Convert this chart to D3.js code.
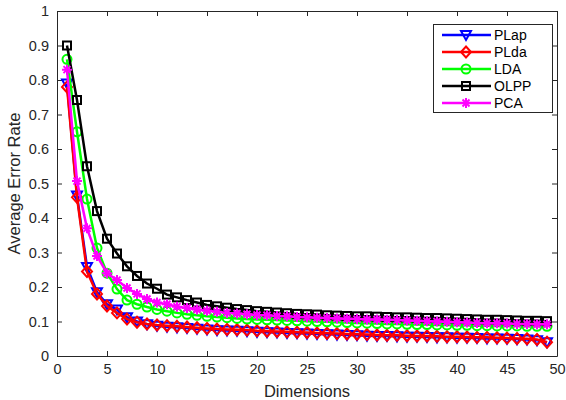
<!DOCTYPE html>
<html>
<head>
<meta charset="utf-8">
<script src="https://cdn.jsdelivr.net/npm/d3@7"></script>
<style>
  html, body { margin: 0; padding: 0; background: #fff; }
  svg { display: block; font-family: "Liberation Sans", Arial, Helvetica, sans-serif; }
</style>
</head>
<body>
<svg id="chart" width="566" height="400"></svg>
<script>
// Number of retained dimensions (x axis)
const dimensions = d3.range(1, 50);

// Average error rate for each method, one value per dimension 1..49
const plapValues = [0.79, 0.465, 0.258, 0.185, 0.150, 0.135, 0.112, 0.100, 0.092, 0.088,
  0.085, 0.083, 0.081, 0.079, 0.077, 0.075, 0.074, 0.073, 0.072, 0.070,
  0.069, 0.068, 0.067, 0.066, 0.065, 0.064, 0.063, 0.062, 0.061, 0.060,
  0.059, 0.058, 0.058, 0.057, 0.056, 0.056, 0.055, 0.054, 0.054, 0.053,
  0.053, 0.052, 0.051, 0.051, 0.050, 0.049, 0.048, 0.046, 0.040];
const pldaValues = [0.78, 0.460, 0.245, 0.180, 0.145, 0.125, 0.107, 0.098, 0.093, 0.090,
  0.088, 0.086, 0.084, 0.082, 0.080, 0.078, 0.077, 0.076, 0.075, 0.073,
  0.072, 0.071, 0.070, 0.069, 0.068, 0.067, 0.066, 0.065, 0.064, 0.063,
  0.062, 0.061, 0.060, 0.060, 0.059, 0.058, 0.058, 0.057, 0.056, 0.056,
  0.055, 0.054, 0.054, 0.053, 0.052, 0.051, 0.050, 0.048, 0.040];
const ldaValues = [0.86, 0.650, 0.455, 0.313, 0.240, 0.194, 0.162, 0.150, 0.142, 0.135,
  0.130, 0.125, 0.121, 0.118, 0.115, 0.113, 0.111, 0.109, 0.107, 0.106,
  0.105, 0.104, 0.103, 0.102, 0.101, 0.100, 0.099, 0.098, 0.097, 0.096,
  0.095, 0.094, 0.093, 0.093, 0.092, 0.091, 0.091, 0.090, 0.090, 0.089,
  0.089, 0.088, 0.088, 0.087, 0.087, 0.087, 0.086, 0.086, 0.086];
const olppValues = [0.90, 0.742, 0.550, 0.420, 0.340, 0.297, 0.260, 0.232, 0.210, 0.195,
  0.178, 0.170, 0.162, 0.155, 0.148, 0.144, 0.140, 0.136, 0.133, 0.130,
  0.128, 0.126, 0.124, 0.122, 0.121, 0.120, 0.118, 0.117, 0.116, 0.115,
  0.115, 0.114, 0.113, 0.112, 0.112, 0.111, 0.110, 0.110, 0.109, 0.108,
  0.107, 0.106, 0.105, 0.105, 0.104, 0.103, 0.102, 0.102, 0.101];
const pcaValues = [0.83, 0.507, 0.370, 0.290, 0.240, 0.220, 0.197, 0.180, 0.165, 0.155,
  0.150, 0.143, 0.139, 0.135, 0.131, 0.128, 0.125, 0.123, 0.121, 0.119,
  0.118, 0.116, 0.115, 0.113, 0.112, 0.111, 0.110, 0.109, 0.108, 0.107,
  0.106, 0.106, 0.105, 0.104, 0.103, 0.102, 0.101, 0.100, 0.099, 0.098,
  0.097, 0.096, 0.095, 0.095, 0.094, 0.093, 0.093, 0.092, 0.092];

const seriesNames = ["PLap", "PLda", "LDA", "OLPP", "PCA"];
const seriesColors = ["#0000ff", "#ff0000", "#00ff00", "#000000", "#ff00ff"];
const seriesMarkers = ["triangleDown", "diamond", "circle", "square", "asterisk"];
const seriesValues = [plapValues, pldaValues, ldaValues, olppValues, pcaValues];

const xTickValues = d3.range(0, 51, 5);
const yTickValues = d3.range(0, 11).map(i => i / 10);

const svg = d3.select("#chart");
const W = 566, H = 400;
const margin = { left: 57, top: 11, right: 9, bottom: 44 };
const plotW = W - margin.left - margin.right;
const plotH = H - margin.top - margin.bottom;
const axisColor = "#262626";

const x = d3.scaleLinear().domain([0, 50]).range([margin.left, margin.left + plotW]);
const y = d3.scaleLinear().domain([0, 1]).range([margin.top + plotH, margin.top]);

// Axes: ticks point inward on all four sides
function styleAxis(g) {
  g.select(".domain").attr("stroke", axisColor).attr("stroke-width", 1);
  g.selectAll(".tick line").attr("stroke", axisColor);
  g.selectAll(".tick text").attr("fill", axisColor).attr("font-size", 14.5)
    .attr("font-family", "'Liberation Sans', Arial, sans-serif");
}
svg.append("g")
  .attr("transform", `translate(0,${margin.top + plotH})`)
  .call(d3.axisBottom(x).tickValues(xTickValues).tickSize(-5).tickPadding(8).tickSizeOuter(0))
  .call(styleAxis);
svg.append("g")
  .attr("transform", `translate(0,${margin.top})`)
  .call(d3.axisTop(x).tickValues(xTickValues).tickSize(-5).tickFormat("").tickSizeOuter(0))
  .call(styleAxis);
svg.append("g")
  .attr("transform", `translate(${margin.left},0)`)
  .call(d3.axisLeft(y).tickValues(yTickValues).tickSize(-5).tickPadding(8).tickSizeOuter(0)
    .tickFormat(d => d === 0 ? "0" : d === 1 ? "1" : d3.format(".1f")(d)))
  .call(styleAxis);
svg.append("g")
  .attr("transform", `translate(${margin.left + plotW},0)`)
  .call(d3.axisRight(y).tickValues(yTickValues).tickSize(-5).tickFormat("").tickSizeOuter(0))
  .call(styleAxis);

// Axis titles
svg.append("text")
  .attr("x", margin.left + plotW / 2).attr("y", 397)
  .attr("text-anchor", "middle").attr("font-size", 16.5).attr("fill", axisColor)
  .text("Dimensions");
svg.append("text")
  .attr("transform", `translate(20,${margin.top + plotH / 2}) rotate(-90)`)
  .attr("text-anchor", "middle").attr("font-size", 16.5).attr("fill", axisColor)
  .text("Average Error Rate");

// Marker drawing
function drawMarker(sel, type, color) {
  const sw = 2;
  if (type === "triangleDown") {
    sel.append("path").attr("d", "M-5,-4 L5,-4 L0,5 Z")
      .attr("fill", "none").attr("stroke", color).attr("stroke-width", sw);
  } else if (type === "diamond") {
    sel.append("path").attr("d", "M0,-5.5 L5,0 L0,5.5 L-5,0 Z")
      .attr("fill", "none").attr("stroke", color).attr("stroke-width", sw);
  } else if (type === "circle") {
    sel.append("circle").attr("r", 4.5)
      .attr("fill", "none").attr("stroke", color).attr("stroke-width", sw);
  } else if (type === "square") {
    sel.append("rect").attr("x", -4).attr("y", -4).attr("width", 8).attr("height", 8)
      .attr("fill", "none").attr("stroke", color).attr("stroke-width", sw);
  } else if (type === "asterisk") {
    const r = 5;
    sel.append("path")
      .attr("d", `M${-r},0 L${r},0 M0,${-r} L0,${r} M${-r*0.7},${-r*0.7} L${r*0.7},${r*0.7} M${-r*0.7},${r*0.7} L${r*0.7},${-r*0.7}`)
      .attr("fill", "none").attr("stroke", color).attr("stroke-width", sw);
  }
}

// Series lines and markers
const line = d3.line().x(d => x(d.dim)).y(d => y(d.val));
seriesNames.forEach((name, i) => {
  const pts = dimensions.map((dim, k) => ({ dim, val: seriesValues[i][k] }));
  const g = svg.append("g");
  g.append("path").datum(pts)
    .attr("d", line).attr("fill", "none")
    .attr("stroke", seriesColors[i]).attr("stroke-width", 2.5);
  g.selectAll("g.m").data(pts).join("g")
    .attr("class", "m")
    .attr("transform", d => `translate(${x(d.dim)},${y(d.val)})`)
    .each(function () { drawMarker(d3.select(this), seriesMarkers[i], seriesColors[i]); });
});

// Legend
const legend = svg.append("g");
legend.append("rect")
  .attr("x", 433.5).attr("y", 24.5).attr("width", 119).attr("height", 88)
  .attr("fill", "#fff").attr("stroke", axisColor).attr("stroke-width", 1);
seriesNames.forEach((name, i) => {
  const ly = 35 + i * 17;
  const g = legend.append("g");
  g.append("line").attr("x1", 442).attr("x2", 491).attr("y1", ly).attr("y2", ly)
    .attr("stroke", seriesColors[i]).attr("stroke-width", 2.5);
  drawMarker(g.append("g").attr("transform", `translate(466,${ly})`), seriesMarkers[i], seriesColors[i]);
  g.append("text").attr("x", 494).attr("y", ly + 5)
    .attr("font-size", 14).attr("fill", "#000").text(name);
});
</script>
</body>
</html>
